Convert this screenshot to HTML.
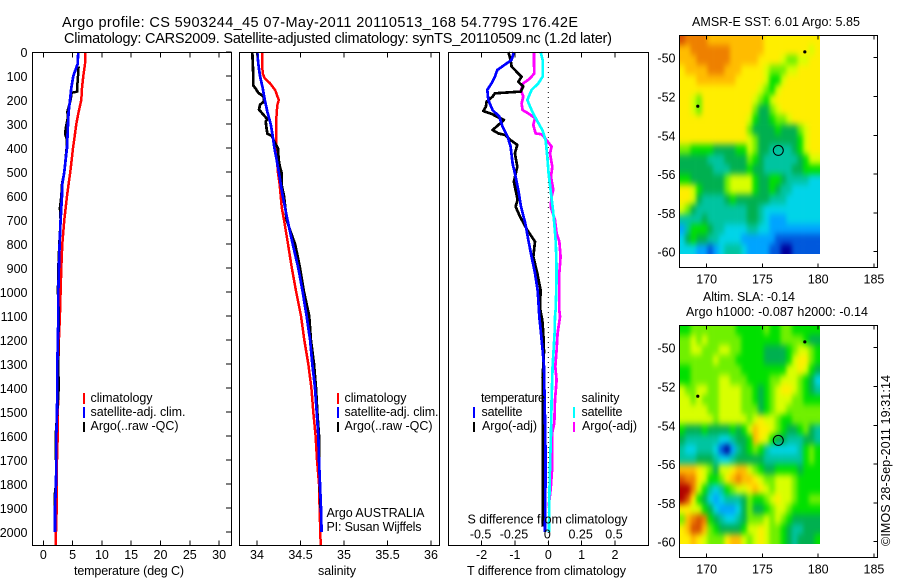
<!DOCTYPE html>
<html lang="en">
<head>
<meta charset="utf-8">
<title>Argo profile CS 5903244_45</title>
<style>
html,body{margin:0;padding:0;background:#fff;width:900px;height:580px;overflow:hidden}
svg{display:block}
text{font-family:"Liberation Sans",sans-serif;font-size:12.5px;fill:#000}
.title{font-size:14.5px}
.tick{font-size:12.5px}
</style>
</head>
<body>
<svg id="chart" width="900" height="580" viewBox="0 0 900 580" xmlns="http://www.w3.org/2000/svg">
  <defs>
    <filter id="mapBlur" x="-10%" y="-10%" width="120%" height="120%" color-interpolation-filters="sRGB">
      <feGaussianBlur stdDeviation="2.2 3.4"/>
    </filter>
    <clipPath id="sstClip"><rect x="679.5" y="36" width="140.5" height="218"/></clipPath>
    <clipPath id="slaClip"><rect x="679.5" y="326" width="140.5" height="218"/></clipPath>
  </defs>
  <rect x="0" y="0" width="900" height="580" fill="#fff"/>
  <text class="title" x="62" y="27" textLength="516" lengthAdjust="spacing">Argo profile: CS 5903244_45 07-May-2011 20110513_168 54.779S 176.42E</text>
  <text class="title" x="64" y="43" textLength="548" lengthAdjust="spacing">Climatology: CARS2009. Satellite-adjusted climatology: synTS_20110509.nc (1.2d later)</text>

  <g id="temp-layer"></g>
  <g id="sal-layer"></g>
  <g id="diff-layer"></g>
  <g id="sst-layer"></g>
  <g id="sla-layer"></g>

  <text x="74" y="575" textLength="110" lengthAdjust="spacing">temperature (deg C)</text>
  <text x="318" y="575" textLength="38" lengthAdjust="spacing">salinity</text>
  <text x="467" y="575" textLength="159" lengthAdjust="spacing">T difference from climatology</text>
  <text x="467.5" y="523.5" textLength="160" lengthAdjust="spacing">S difference from climatology</text>

  <g>
    <rect x="83" y="393" width="2" height="11" fill="#ff0000"/>
    <rect x="83" y="407" width="2" height="11" fill="#0000ff"/>
    <rect x="83" y="422" width="2" height="10" fill="#000"/>
    <text x="90.5" y="402" textLength="62" lengthAdjust="spacing">climatology</text>
    <text x="90.5" y="416" textLength="95" lengthAdjust="spacing">satellite-adj. clim.</text>
    <text x="90.5" y="430" textLength="88" lengthAdjust="spacing">Argo(..raw -QC)</text>
  </g>
  <g>
    <rect x="337" y="393" width="2" height="11" fill="#ff0000"/>
    <rect x="337" y="407" width="2" height="11" fill="#0000ff"/>
    <rect x="337" y="422" width="2" height="10" fill="#000"/>
    <text x="344.5" y="402" textLength="62" lengthAdjust="spacing">climatology</text>
    <text x="344.5" y="416" textLength="94" lengthAdjust="spacing">satellite-adj. clim.</text>
    <text x="344.5" y="430" textLength="88" lengthAdjust="spacing">Argo(..raw -QC)</text>
  </g>
  <text x="326.5" y="517" textLength="98" lengthAdjust="spacing">Argo AUSTRALIA</text>
  <text x="326.5" y="531" textLength="95" lengthAdjust="spacing">PI: Susan Wijffels</text>

  <g>
    <text x="481" y="402" textLength="64" lengthAdjust="spacing">temperature</text>
    <rect x="473" y="407" width="2" height="11" fill="#0000ff"/>
    <text x="481.5" y="416" textLength="41" lengthAdjust="spacing">satellite</text>
    <rect x="473" y="422" width="2" height="10" fill="#000"/>
    <text x="482" y="430" textLength="55" lengthAdjust="spacing">Argo(-adj)</text>
    <text x="581.5" y="402" textLength="38" lengthAdjust="spacing">salinity</text>
    <rect x="573" y="407" width="2" height="11" fill="#00ffff"/>
    <text x="581.5" y="416" textLength="41" lengthAdjust="spacing">satellite</text>
    <rect x="573" y="422" width="2" height="10" fill="#ff00ff"/>
    <text x="582" y="430" textLength="55" lengthAdjust="spacing">Argo(-adj)</text>
  </g>

  <text x="692" y="26" textLength="168" lengthAdjust="spacing">AMSR-E SST: 6.01  Argo: 5.85</text>
  <text x="703" y="301" textLength="92" lengthAdjust="spacing">Altim. SLA: -0.14</text>
  <text x="686" y="316" textLength="182" lengthAdjust="spacing">Argo h1000: -0.087 h2000: -0.14</text>
  <text transform="translate(890,546) rotate(-90)" x="0" y="0" textLength="171" lengthAdjust="spacing">©IMOS 28-Sep-2011 19:31:14</text>
</svg>
<script>
// ---------- tick arrays ----------
var depthTicks = [0,100,200,300,400,500,600,700,800,900,1000,1100,1200,1300,1400,1500,1600,1700,1800,1900,2000];
var tempTicks = [0,5,10,15,20,25,30];
var salTicks = [34,34.5,35,35.5,36];
var salTickLabels = ["34","34.5","35","35.5","36"];
var tDiffTicks = [-2,-1,0,1,2];
var sDiffTicks = [-0.5,-0.25,0,0.25,0.5];
var sDiffTickLabels = ["-0.5","-0.25","0","0.25","0.5"];
var lonTicks = [170,175,180,185];
var latTicks = [-50,-52,-54,-56,-58,-60];

// ---------- temperature profiles ----------
var tempClimDepth = [0,50,100,150,200,250,300,350,400,500,550,600,700,800,900,1000,1100,1200,1300,1400,1500,1600,1700,1800,1900,2000,2056];
var tempClim = [7.17,7.11,6.83,6.6,6.48,6.03,5.63,5.35,5.06,4.61,4.32,4.04,3.58,3.24,3.07,2.96,2.84,2.67,2.56,2.56,2.5,2.45,2.33,2.28,2.28,2.16,2.1];
var tempSatDepth = [0,50,100,150,200,250,300,400,450,500,550,600,700,800,900,1000,1100,1200,1300,1400,1500,1600,1700,1800,1900,2000];
var tempSat = [5.97,5.86,5.12,4.78,4.55,4.32,4.21,4.04,3.81,3.58,3.24,3.19,2.96,2.79,2.67,2.56,2.56,2.5,2.39,2.39,2.33,2.22,2.22,2.16,1.99,1.99];
var tempArgoDepth = [60,100,140,165,170,200,250,270,310,340,360,400,500,550,600,650,700,800,900,1000,1100,1200,1300,1400,1500,1600,1700,1800,1850,1900];
var tempArgo = [6.03,5.92,5.8,5.8,4.84,4.66,4.1,4.21,3.87,3.7,3.98,3.98,3.58,3.19,3.07,2.84,2.96,2.73,2.56,2.5,2.67,2.56,2.56,2.62,2.39,2.1,2.16,2.16,1.93,1.93];

// ---------- salinity profiles ----------
var salClimDepth = [0,50,90,110,130,160,180,200,220,250,300,400,500,550,650,700,800,900,1000,1100,1200,1300,1400,1500,1600,1700,1800,1900,2000,2056];
var salClim = [34.06,34.06,34.065,34.09,34.15,34.21,34.23,34.25,34.234,34.226,34.22,34.22,34.24,34.26,34.285,34.31,34.356,34.4,34.45,34.506,34.544,34.59,34.625,34.647,34.674,34.69,34.713,34.72,34.728,34.732];
var salSatDepth = [0,50,100,150,200,250,300,350,400,450,500,600,700,800,900,1000,1100,1200,1300,1400,1500,1600,1700,1800,1900,2000];
var salSat = [34.004,34.015,34.034,34.065,34.09,34.12,34.157,34.18,34.2,34.226,34.25,34.295,34.35,34.41,34.475,34.525,34.57,34.61,34.636,34.667,34.686,34.705,34.713,34.724,34.736,34.743];
var salArgoDepth = [0,100,140,150,170,185,205,220,240,260,280,290,320,340,350,380,400,450,480,500,550,600,700,750,800,850,900,1000,1100,1200,1300,1400,1500,1600,1700,1800,1900];
var salArgo = [33.946,33.958,33.958,33.98,34.015,34.073,34.084,34.034,34.023,34.07,34.12,34.1,34.11,34.119,34.17,34.207,34.24,34.249,34.264,34.28,34.28,34.31,34.341,34.387,34.437,34.467,34.494,34.54,34.6,34.62,34.655,34.678,34.693,34.713,34.713,34.724,34.728];

// ---------- differences from climatology ----------
var tDiffSatDepth = [0,33,75,103,130,158,200,242,269,311,353,394,464,506,575,644,714,783,853,922,992,1033,1103,1172,1242,1311,1450,1589,1728,1867,2000];
var tDiffSat = [-1.03,-1.1,-1.53,-1.6,-1.7,-1.83,-1.8,-1.67,-1.47,-1.37,-1.22,-1.13,-1.07,-1,-0.9,-0.82,-0.69,-0.6,-0.5,-0.4,-0.32,-0.3,-0.27,-0.22,-0.17,-0.13,-0.11,-0.09,-0.08,-0.09,-0.1];
var tDiffArgoDepth = [0,33,61,82,103,124,144,165,172,186,207,228,246,258,272,283,304,325,339,346,367,387,422,478,540,617,644,686,742,790,853,922,992,1068,1117,1172,1250,1358,1600,1800,1978];
var tDiffArgo = [-1.2,-1.13,-1.1,-0.95,-0.8,-0.9,-0.75,-0.83,-1.6,-1.67,-1.85,-1.87,-1.95,-1.7,-1.5,-1.33,-1.5,-1.67,-1.5,-1.3,-1.13,-0.93,-1,-0.93,-1.03,-0.92,-0.98,-0.85,-0.63,-0.4,-0.45,-0.33,-0.23,-0.25,-0.18,-0.15,-0.13,-0.17,-0.17,-0.16,-0.17];
var sDiffSatDepth = [0,33,103,131,158,200,242,283,325,367,436,506,575,644,714,783,853,922,992,1075,1103,1172,1242,1311,1450,1589,1728,1867,2000];
var sDiffSat = [-0.0575,-0.0425,-0.0425,-0.075,-0.125,-0.1575,-0.125,-0.0875,-0.045,-0.02,-0.0075,0.0025,0.0175,0.0325,0.045,0.055,0.06,0.0625,0.06,0.055,0.05,0.0475,0.04,0.0325,0.025,0.02,0.0125,0.0075,0.005];
var sDiffArgoDepth = [0,47,89,110,131,158,186,214,242,256,276,304,339,343,367,394,422,478,519,575,603,644,700,756,790,853,922,992,1075,1103,1172,1242,1311,1367,1450,1547,1589,1728,1825,1894];
var sDiffArgo = [-0.1075,-0.1075,-0.105,-0.1375,-0.1875,-0.205,-0.1875,-0.2,-0.1925,-0.15,-0.1,-0.1125,-0.095,-0.05,-0.0125,0.025,0.0125,0.03,0.02,0.0375,0.025,0.0175,0.05,0.0625,0.0825,0.0925,0.0825,0.0825,0.0825,0.0875,0.07,0.0625,0.0525,0.0625,0.05,0.045,0.0275,0.03,0.0175,0.0025];

// ---------- map colour levels ----------
var levelColours = ["#00009c","#0058dc","#00a4ff","#00d4e8","#00c4a0","#00b050","#00e000","#70f000","#d8ff00","#ffee00","#ffbc00","#ee8000","#d85000","#b00000"];

// ---------- SST map, level per half-degree cell (north to south) ----------
var sstR00=[12,11,11,11,11,10,10,10,10,10,10,10,10,10,10,9,9,9,9,9,9,9,9,9,9];
var sstR01=[10,10,11,11,11,11,11,11,11,10,10,10,10,10,10,9,9,9,9,9,9,9,9,8,9];
var sstR02=[10,10,10,11,11,11,11,11,11,10,10,10,10,10,9,9,9,9,8,7,7,8,8,9,9];
var sstR03=[9,10,10,10,10,11,11,11,10,10,10,9,9,9,9,8,7,7,7,8,8,9,9,9,9];
var sstR04=[9,9,9,10,10,10,10,10,10,10,9,9,9,9,9,8,6,6,8,9,9,9,9,9,9];
var sstR05=[9,9,9,9,9,9,9,9,9,9,9,9,9,9,8,7,6,8,9,9,9,9,9,9,9];
var sstR06=[9,9,8,7,9,9,9,9,9,9,9,9,9,8,7,6,8,9,9,9,9,9,9,9,9];
var sstR07=[9,9,8,7,9,9,9,9,9,9,9,9,9,7,5,5,7,8,9,9,9,9,9,9,9];
var sstR08=[9,9,9,9,9,9,9,9,9,9,9,9,8,6,5,5,6,7,7,8,9,9,9,9,9];
var sstR09=[9,9,9,9,9,9,9,9,9,9,9,9,7,5,5,5,5,6,5,5,5,7,8,9,9];
var sstR10=[9,9,9,9,9,9,9,9,9,9,9,9,8,7,5,5,5,5,5,5,5,6,8,9,9];
var sstR11=[7,7,6,6,6,6,5,5,5,5,6,6,8,7,5,5,4,4,4,4,5,6,8,9,9];
var sstR12=[5,5,5,5,5,4,4,4,5,5,5,5,7,6,5,4,4,4,4,4,4,5,6,8,8];
var sstR13=[5,5,5,5,5,5,4,4,4,5,5,5,6,5,5,4,4,4,4,4,5,5,6,6,6];
var sstR14=[6,6,5,5,5,5,5,5,7,8,8,8,8,6,5,5,6,6,5,4,4,4,4,3,3];
var sstR15=[9,9,8,6,5,5,5,5,7,8,8,8,8,6,5,5,6,5,4,4,3,3,3,3,3];
var sstR16=[9,9,8,5,4,4,4,4,5,6,5,5,5,5,5,5,4,4,4,3,3,3,3,3,3];
var sstR17=[8,7,5,4,4,4,4,4,4,4,4,4,5,5,4,3,3,3,3,3,3,3,3,3,3];
var sstR18=[4,4,4,4,5,4,4,4,4,4,4,4,5,5,4,3,2,2,2,3,3,3,3,3,3];
var sstR19=[2,4,6,6,6,5,4,4,3,3,3,3,4,4,3,3,2,2,2,2,2,2,2,2,2];
var sstR20=[3,5,6,5,5,4,4,3,3,3,3,2,2,2,2,2,2,1,1,1,1,1,1,1,1];
var sstR21=[3,3,3,2,2,1,2,3,4,4,4,3,2,2,2,2,1,1,0,0,1,1,1,1,1];
var sstRows=[sstR00,sstR01,sstR02,sstR03,sstR04,sstR05,sstR06,sstR07,sstR08,sstR09,sstR10,sstR11,sstR12,sstR13,sstR14,sstR15,sstR16,sstR17,sstR18,sstR19,sstR20,sstR21];

// ---------- SLA map, level per half-degree cell (north to south) ----------
var slaR00=[6,6,7,7,7,7,7,7,7,7,6,6,6,6,6,7,6,6,7,7,6,6,6,6,6];
var slaR01=[7,7,8,7,8,7,7,7,7,7,7,6,6,6,6,6,6,6,7,7,7,7,6,5,5];
var slaR02=[7,7,8,8,7,7,7,8,8,7,7,6,6,6,6,5,5,5,5,6,7,8,8,7,6];
var slaR03=[7,7,7,7,7,7,8,7,7,7,6,6,6,6,6,5,5,5,5,6,8,9,9,7,6];
var slaR04=[6,6,7,7,7,7,7,7,7,7,7,6,6,6,6,6,6,6,6,8,8,9,8,6,5];
var slaR05=[6,6,7,7,7,7,7,8,8,7,7,7,6,6,6,6,7,7,8,8,8,7,6,5,3];
var slaR06=[8,7,7,8,8,7,7,8,8,8,8,7,7,6,5,6,7,8,9,9,8,7,6,5,4];
var slaR07=[8,8,7,8,7,7,7,8,8,8,8,7,7,6,5,6,7,8,8,8,7,7,6,6,6];
var slaR08=[8,8,8,8,8,7,7,8,8,8,8,7,7,7,5,6,7,8,8,7,7,7,7,7,7];
var slaR09=[8,8,8,8,8,8,7,8,8,8,8,8,7,8,9,8,8,7,6,6,7,7,7,7,7];
var slaR10=[6,5,5,5,6,5,5,5,5,6,5,6,8,10,9,9,8,7,6,5,5,6,7,5,4];
var slaR11=[5,4,4,4,4,4,4,3,3,4,5,5,6,10,9,8,6,5,5,4,4,4,5,5,4];
var slaR12=[4,3,3,4,4,4,3,1,0,2,4,5,6,7,6,4,3,3,3,3,3,4,6,7,6];
var slaR13=[4,4,4,5,5,5,4,3,3,4,5,5,5,5,5,4,4,4,4,4,4,4,6,7,6];
var slaR14=[10,10,10,9,8,7,5,8,8,9,10,10,8,7,6,5,5,6,6,6,6,5,6,6,6];
var slaR15=[12,11,11,9,8,6,6,7,9,10,11,10,10,9,8,7,7,8,8,8,7,6,6,6,6];
var slaR16=[13,13,11,8,6,4,3,4,6,7,8,8,9,10,9,8,7,8,8,8,7,6,6,6,6];
var slaR17=[13,12,9,6,5,3,2,3,4,4,4,5,7,6,6,7,8,9,8,8,7,6,6,7,7];
var slaR18=[9,9,8,8,6,5,3,2,2,2,3,5,7,5,5,6,7,8,8,7,6,6,6,6,6];
var slaR19=[7,10,11,12,11,6,5,4,3,3,4,5,7,7,7,8,7,8,7,6,5,5,5,5,5];
var slaR20=[9,10,12,12,10,7,6,5,5,5,5,6,8,8,9,8,7,7,6,5,4,4,5,5,5];
var slaR21=[9,9,10,9,8,7,7,7,9,10,10,8,7,8,9,8,7,7,6,5,4,5,5,5,6];
var slaRows=[slaR00,slaR01,slaR02,slaR03,slaR04,slaR05,slaR06,slaR07,slaR08,slaR09,slaR10,slaR11,slaR12,slaR13,slaR14,slaR15,slaR16,slaR17,slaR18,slaR19,slaR20,slaR21];

// ---------- map markers ----------
var floatLon = 176.42;
var floatLat = -54.779;
var landLons = [178.8,169.2];
var landLats = [-49.7,-52.5];

// ---------- axis functions ----------
function yDepth(d){ return 52 + d * 0.24; }
function xTemp(t){ return 43.3 + t * 5.86; }
function xSal(s){ return 257 + (s - 34) * 87; }
function xTDiff(v){ return 548.3 + v * 33.35; }
function xSDiff(v){ return 548.3 + v * 133.4; }
function xLon(lon){ return 706.7 + (lon - 170) * 11.15; }
function yLat1(lat){ return 57.7 + (-50 - lat) * 19.4; }
function yLat2(lat){ return 347.7 + (-50 - lat) * 19.4; }

var NS = "http://www.w3.org/2000/svg";
function mk(tag, parent){
  var el = document.createElementNS(NS, tag);
  parent.appendChild(el);
  return el;
}
function drawFrame(parent, x0, y0, x1, y1){
  var el = mk("rect", parent);
  
  
  el.setAttribute("x", x0); el.setAttribute("y", y0);
  el.setAttribute("width", x1 - x0); el.setAttribute("height", y1 - y0);
  el.setAttribute("fill", "none");
  el.setAttribute("stroke", "#000");
  el.setAttribute("stroke-width", "1");
  el.setAttribute("shape-rendering", "crispEdges");
}
function drawTickMark(parent, x1, y1, x2, y2){
  var el = mk("line", parent);
  
  
  el.setAttribute("x1", x1); el.setAttribute("y1", y1);
  el.setAttribute("x2", x2); el.setAttribute("y2", y2);
  el.setAttribute("stroke", "#000");
  el.setAttribute("shape-rendering", "crispEdges");
}
function drawLabel(parent, x, y, txt, anchor){
  var el = mk("text", parent);
  
  
  el.setAttribute("class", "tick");
  el.setAttribute("x", x); el.setAttribute("y", y);
  el.setAttribute("text-anchor", anchor);
  el.textContent = txt;
}
function drawSeries(parent, name, xs, depths, xf, colour, width){
  var pts = [];
  for (var i = 0; i < xs.length; i++) pts.push(xf(xs[i]).toFixed(1) + "," + yDepth(depths[i]).toFixed(1));
  var el = mk("polyline", parent);
  
  
  el.setAttribute("points", pts.join(" "));
  el.setAttribute("fill", "none");
  el.setAttribute("stroke", colour);
  el.setAttribute("stroke-width", width);
  el.setAttribute("stroke-linejoin", "round");
  el.setAttribute("shape-rendering", "crispEdges");
}
function drawXTicks(parent, ticks, xf, top, bottom, len){
  ticks.forEach(function(t){
    var x = xf(t);
    if (top !== null) drawTickMark(parent, x, top, x, top + len);
    drawTickMark(parent, x, bottom, x, bottom - len);
  });
}

// ---------- temperature panel ----------
var tempG = document.getElementById("temp-layer");
drawSeries(tempG, "temperature-climatology-line", tempClim, tempClimDepth, xTemp, "#ff0000", 2.5);
drawSeries(tempG, "temperature-argo-line", tempArgo, tempArgoDepth, xTemp, "#000", 2.5);
drawSeries(tempG, "temperature-satellite-line", tempSat, tempSatDepth, xTemp, "#0000ff", 2.7);
drawFrame(tempG, 32.5, 52.5, 231.5, 545.5);
drawXTicks(tempG, tempTicks, xTemp, 52.5, 545.5, 5);
tempTicks.forEach(function(t){ drawLabel(tempG, xTemp(t), 559, String(t), "middle"); });
depthTicks.forEach(function(d){
  drawTickMark(tempG, 226, yDepth(d), 231.5, yDepth(d));
  drawLabel(tempG, 27.5, yDepth(d) + 5, String(d), "end");
});

// ---------- salinity panel ----------
var salG = document.getElementById("sal-layer");
drawSeries(salG, "salinity-climatology-line", salClim, salClimDepth, xSal, "#ff0000", 2.5);
drawSeries(salG, "salinity-argo-line", salArgo, salArgoDepth, xSal, "#000", 2.7);
drawSeries(salG, "salinity-satellite-line", salSat, salSatDepth, xSal, "#0000ff", 2.7);
drawFrame(salG, 239.5, 52.5, 439.5, 545.5);
drawXTicks(salG, salTicks, xSal, 52.5, 545.5, 5);
salTicks.forEach(function(t, i){ drawLabel(salG, xSal(t), 559, salTickLabels[i], "middle"); });

// ---------- difference panel ----------
var diffG = document.getElementById("diff-layer");
var zeroLine = mk("line", diffG);


zeroLine.setAttribute("x1", xTDiff(0)); zeroLine.setAttribute("y1", 52);
zeroLine.setAttribute("x2", xTDiff(0)); zeroLine.setAttribute("y2", 545);
zeroLine.setAttribute("stroke", "#000");
zeroLine.setAttribute("stroke-dasharray", "1 4");
drawSeries(diffG, "salinity-argo-difference-line", sDiffArgo, sDiffArgoDepth, xSDiff, "#ff00ff", 2.7);
drawSeries(diffG, "salinity-satellite-difference-line", sDiffSat, sDiffSatDepth, xSDiff, "#00ffff", 2.7);
drawSeries(diffG, "temperature-argo-difference-line", tDiffArgo, tDiffArgoDepth, xTDiff, "#000", 2.7);
drawSeries(diffG, "temperature-satellite-difference-line", tDiffSat, tDiffSatDepth, xTDiff, "#0000ff", 2.7);
drawFrame(diffG, 448.5, 52.5, 648.5, 545.5);
drawXTicks(diffG, tDiffTicks, xTDiff, 52.5, 545.5, 5);
tDiffTicks.forEach(function(t){ drawLabel(diffG, xTDiff(t), 559, String(t), "middle"); });
sDiffTicks.forEach(function(t, i){ drawLabel(diffG, xSDiff(t) - 1, 538.5, sDiffTickLabels[i], "middle"); });

// ---------- maps ----------
function drawMap(parent, name, rows, yLat, frameTop, frameBottom, clipId){
  var lon0 = 167.54, dLon = 0.5048, lat0 = -48.83, dLat = 0.5132, pad = 10;
  var clipG = mk("g", parent);
  
  
  clipG.setAttribute("clip-path", "url(#" + clipId + ")");
  var blurG = mk("g", clipG);
  
  
  blurG.setAttribute("filter", "url(#mapBlur)");
  rows.forEach(function(row, r){
    row.forEach(function(level, c){
      var x0 = xLon(lon0 + c * dLon), x1 = xLon(lon0 + (c + 1) * dLon);
      var y0 = yLat(lat0 - r * dLat), y1 = yLat(lat0 - (r + 1) * dLat);
      if (c === 0) x0 -= pad;
      if (c === row.length - 1) x1 += pad;
      if (r === 0) y0 -= pad;
      if (r === rows.length - 1) y1 += pad;
      var el = mk("rect", blurG);
      
      
      el.setAttribute("x", x0.toFixed(2));
      el.setAttribute("y", y0.toFixed(2));
      el.setAttribute("width", (x1 - x0 + 0.3).toFixed(2));
      el.setAttribute("height", (y1 - y0 + 0.3).toFixed(2));
      el.setAttribute("fill", levelColours[level]);
    });
  });
  landLons.forEach(function(lon, i){
    var el = mk("circle", parent);
    
    
    el.setAttribute("cx", xLon(lon)); el.setAttribute("cy", yLat(landLats[i]));
    el.setAttribute("r", 1.6);
    el.setAttribute("fill", "#000");
  });
  var ring = mk("circle", parent);
  
  
  ring.setAttribute("cx", xLon(floatLon)); ring.setAttribute("cy", yLat(floatLat));
  ring.setAttribute("r", 5);
  ring.setAttribute("fill", "none");
  ring.setAttribute("stroke", "#000");
  drawFrame(parent, 679.5, frameTop, 877.5, frameBottom);
  lonTicks.forEach(function(lon){
    var x = xLon(lon);
    drawTickMark(parent, x, frameTop, x, frameTop + 4);
    drawTickMark(parent, x, frameBottom, x, frameBottom - 4);
    drawLabel(parent, x, frameBottom + 16, String(lon), "middle");
  });
  latTicks.forEach(function(lat){
    var y = yLat(lat);
    drawTickMark(parent, 873.5, y, 877.5, y);
    drawLabel(parent, 675.5, y + 5, String(lat), "end");
  });
}
drawMap(document.getElementById("sst-layer"), "sst", sstRows, yLat1, 35.5, 267.5, "sstClip");
drawMap(document.getElementById("sla-layer"), "sla", slaRows, yLat2, 325.5, 557.5, "slaClip");
</script>
</body>
</html>
